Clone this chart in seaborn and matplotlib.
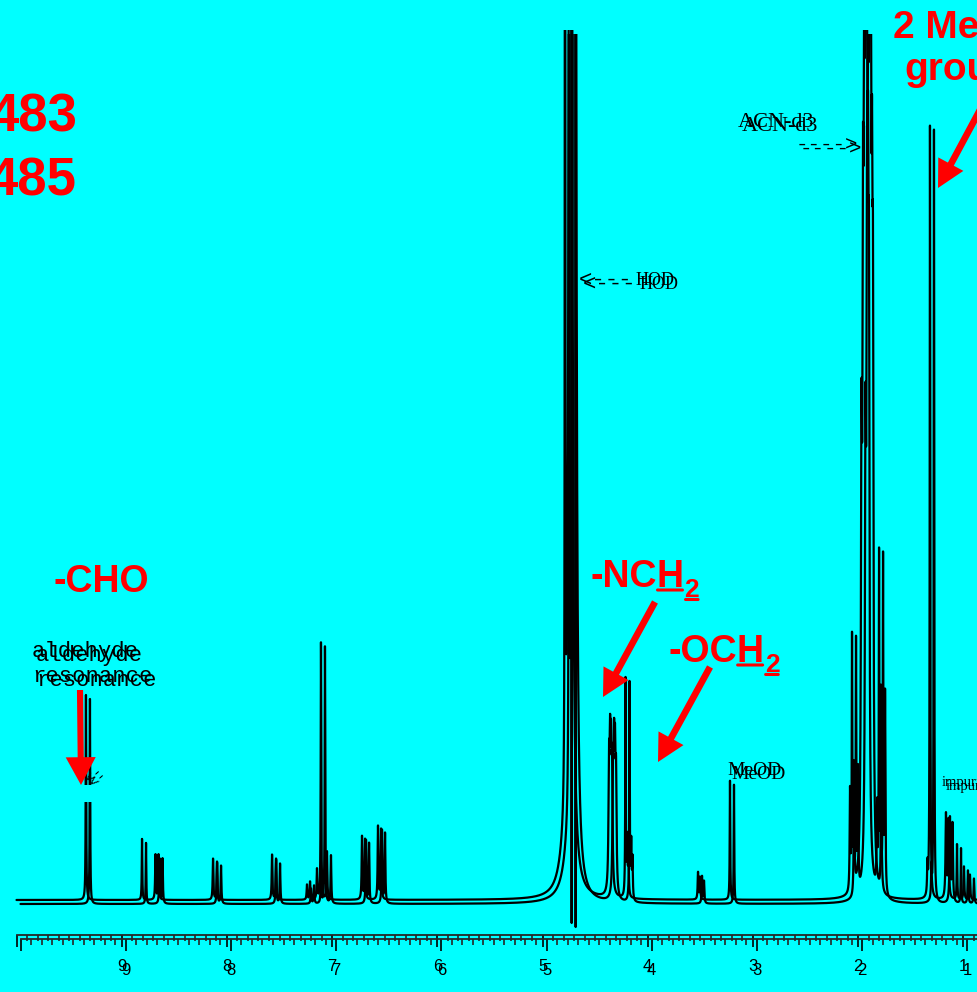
import numpy as np
import pandas as pd
import matplotlib
matplotlib.use("Agg")
import matplotlib.pyplot as plt
import seaborn as sns
from matplotlib.patches import FancyArrowPatch, Rectangle

# ---------------- data ----------------
# peak centres (ppm), heights (arbitrary units, baseline = 0) and half widths (ppm)
peak_ppm = [9.340, 8.807, 8.679, 8.650, 8.132, 8.094, 7.571, 7.533, 7.239, 7.210,
            7.144, 7.106, 7.049, 6.716, 6.687, 6.564, 6.535,
            4.786, 4.734, 4.790,
            4.368, 4.358, 4.349, 4.339, 4.211, 4.195, 4.183,
            3.522, 3.503, 3.218,
            2.077, 2.058, 2.039,
            1.968, 1.954, 1.944, 1.935, 1.925, 1.916, 1.906, 1.897, 1.925,
            1.820, 1.801, 1.782,
            1.341, 1.317, 1.165, 1.141, 1.060, 0.994, 0.937]
peak_height = [205, 61, 45, 45, 41, 38, 45, 40, 15, 18,
               30, 257, 48, 63, 60, 73, 70,
               2000, 17000, 25,
               115, 115, 110, 105, 217, 55, 40,
               27, 22, 119,
               100, 250, 120,
               380, 500, 500, 490, 480, 470, 460, 460, 2000,
               80, 332, 200,
               30, 773, 84, 78, 55, 33, 25]
peak_width = [0.003, 0.003, 0.004, 0.004, 0.004, 0.004, 0.004, 0.004, 0.004, 0.004,
              0.004, 0.003, 0.004, 0.004, 0.004, 0.004, 0.004,
              0.002, 0.004, 0.060,
              0.0057, 0.0057, 0.0057, 0.0057, 0.003, 0.004, 0.004,
              0.004, 0.004, 0.003,
              0.004, 0.003, 0.004,
              0.006, 0.0057, 0.0057, 0.0057, 0.0057, 0.0057, 0.0057, 0.0057, 0.002,
              0.004, 0.003, 0.004,
              0.004, 0.003, 0.005, 0.005, 0.003, 0.004, 0.004]
# dispersive (negative) spike inside the HOD signal
dip_ppm = [4.723]
dip_depth = [-23.0]

tick_values = [10, 9, 8, 7, 6, 5, 4, 3, 2, 1]
tick_labels = ["", "9", "8", "7", "6", "5", "4", "3", "2", "1"]

# ---------------- style ----------------
sns.set_style("white")
plt.rcParams['font.family'] = ['Liberation Sans', 'DejaVu Sans']

W, H = 978, 992
CYAN = '#00FFFF'
RED = '#FF0000'
PX_PER_PPM = 105.2
PPM_AT_X0 = 10.157


def px2ppm(x):
    return PPM_AT_X0 - x / PX_PER_PPM


def px2int(y):
    return 900 - y


XLIM = (PPM_AT_X0, px2ppm(W))

# ---------------- spectrum ----------------
grid = np.union1d(np.linspace(10.0, 0.86, 40001), np.array(peak_ppm + dip_ppm))[::-1]


def lorentz(x, p, h, w):
    return h * w * w / ((x - p) ** 2 + w * w)


spec = np.zeros_like(grid)
for p, h, w in zip(peak_ppm, peak_height, peak_width):
    spec += lorentz(grid, p, h, w)
for p, d in zip(dip_ppm, dip_depth):
    base = sum(lorentz(p, pp, hh, ww) for pp, hh, ww in zip(peak_ppm, peak_height, peak_width))
    spec += lorentz(grid, p, d - base, 0.00003)

df = pd.DataFrame({'ppm': grid, 'intensity': spec})

fig = plt.figure(figsize=(W / 100, H / 100), dpi=100, facecolor=CYAN)

minor_ticks = [round(v * 0.1, 1) for v in range(9, 100) if v % 10 != 0]


def draw_layer(ax):
    sns.lineplot(data=df, x='ppm', y='intensity', ax=ax, color='black',
                 linewidth=1.6, estimator=None, sort=False, legend=False)
    ax.set_xlim(*XLIM)
    ax.set_ylim(-92, 870)
    ax.patch.set_alpha(0)
    for s in ['left', 'right', 'top']:
        ax.spines[s].set_visible(False)
    ax.spines['bottom'].set_position(('data', -35))
    ax.spines['bottom'].set_linewidth(1.3)
    ax.spines['bottom'].set_bounds(XLIM[1], 10)
    ax.set_yticks([])
    ax.set_xticks(tick_values)
    ax.set_xticklabels(tick_labels)
    ax.set_xticks(minor_ticks, minor=True)
    ax.tick_params(axis='x', which='major', direction='out', length=8.6, width=1.2,
                   pad=9, labelsize=12, colors='black', bottom=True)
    ax.tick_params(axis='x', which='minor', direction='out', length=4.3, width=1.2,
                   bottom=True)
    ax.set_xlabel('')
    ax.set_ylabel('')
    mono = dict(family=['Liberation Mono', 'DejaVu Sans Mono'], color='black')
    serif = dict(family=['Liberation Serif', 'DejaVu Serif'], color='black')
    ax.text(px2ppm(32), px2int(657), "aldehyde", fontsize=16, va='baseline', **mono)
    ax.text(px2ppm(32), px2int(682), "resonance", fontsize=16, va='baseline', **mono)
    ax.text(px2ppm(579), px2int(280), "<---", fontsize=16, va='center', **mono)
    ax.text(px2ppm(636), px2int(285), "HOD", fontsize=13, va='baseline', **serif)
    ax.text(px2ppm(738), px2int(127), "ACN-d3", fontsize=16, va='baseline', **serif)
    ax.text(px2ppm(796), px2int(145), "---->", fontsize=15, va='center', **mono)
    ax.text(px2ppm(727), px2int(775), "MeOD", fontsize=14, va='baseline', **serif)
    ax.text(px2ppm(942), px2int(786), "impurity", fontsize=10.5, va='baseline', **serif)


ax1 = fig.add_axes([0, 0, 1, 962 / H], zorder=1)
draw_layer(ax1)
ax2 = fig.add_axes([4 / W, -4 / H, 1, 962 / H], zorder=2)
draw_layer(ax2)

# top, un-shifted layer for the red annotations
ax3 = fig.add_axes([0, 0, 1, 1], zorder=3)
ax3.set_xlim(*XLIM)
ax3.set_ylim(-92, 900)
ax3.axis('off')
ax3.patch.set_alpha(0)

# gap behind the small label arrow at the aldehyde peak
ax3.add_patch(Rectangle((px2ppm(96), px2int(802)), px2ppm(84) - px2ppm(96), 17,
                        facecolor=CYAN, edgecolor='none', zorder=1))
for dx in (0, 4):
    ax3.text(px2ppm(94 + dx), px2int(775 + dx), "<-", rotation=42, fontsize=11,
             family=['Liberation Mono', 'DejaVu Sans Mono'], color='black',
             ha='center', va='center', zorder=3)

red_kw = dict(color=RED, fontweight='bold', family=['Liberation Sans', 'DejaVu Sans'])

ax3.text(px2ppm(77), px2int(132), "483", fontsize=38, ha='right', va='baseline', **red_kw)
ax3.text(px2ppm(76), px2int(195), "485", fontsize=38, ha='right', va='baseline', **red_kw)
ax3.text(px2ppm(893), px2int(38), "2 Methyl", fontsize=28, ha='left', va='baseline', **red_kw)
ax3.text(px2ppm(904), px2int(80), "groups", fontsize=28, ha='left', va='baseline', **red_kw)
ax3.text(px2ppm(53), px2int(592), "-CHO", fontsize=27, ha='left', va='baseline', **red_kw)


def underline(x0, x1, y):
    ax3.annotate('', xy=(x1, y), xytext=(x0, y), xycoords='figure pixels',
                 textcoords='figure pixels',
                 arrowprops=dict(arrowstyle='-', color=RED, lw=2.2,
                                 shrinkA=0, shrinkB=0))


def chem_label(x_px, base_px, head, under, sub):
    x, y = px2ppm(x_px), px2int(base_px)
    t1 = ax3.text(x, y, head, fontsize=27, ha='left', va='baseline', **red_kw)
    fig.canvas.draw()
    r = fig.canvas.get_renderer()
    bx = t1.get_window_extent(r).x1
    by = ax3.transData.transform((x, y))[1]
    t2 = ax3.annotate(under, xy=(bx, by), xycoords='figure pixels', fontsize=27,
                      ha='left', va='baseline', **red_kw)
    fig.canvas.draw()
    b2 = t2.get_window_extent(r)
    underline(b2.x0 + 1, b2.x1 - 1, by - 3)
    t3 = ax3.annotate(sub, xy=(b2.x1 + 1, by - 10), xycoords='figure pixels', fontsize=19,
                      ha='left', va='baseline', **red_kw)
    fig.canvas.draw()
    b3 = t3.get_window_extent(r)
    underline(b3.x0 + 1, b3.x1 - 1, by - 12.5)


chem_label(590, 587, "-NC", "H", "2")
chem_label(668, 662, "-OC", "H", "2")


def red_arrow(x0, y0, x1, y1, tail=4.8, hw=20.5, hl=19.5):
    style = f"simple,head_length={hl},head_width={hw},tail_width={tail}"
    a = FancyArrowPatch((px2ppm(x0), px2int(y0)), (px2ppm(x1), px2int(y1)),
                        arrowstyle=style, mutation_scale=1, color=RED, lw=0,
                        shrinkA=0, shrinkB=0, zorder=4)
    ax3.add_patch(a)


red_arrow(80, 690, 81, 785, tail=4.4, hw=21.6, hl=20)
red_arrow(655, 602, 603, 697)
red_arrow(710, 667, 658, 762)
red_arrow(995, 82, 938, 188)

fig.savefig("out.png", dpi=100, facecolor=CYAN)
